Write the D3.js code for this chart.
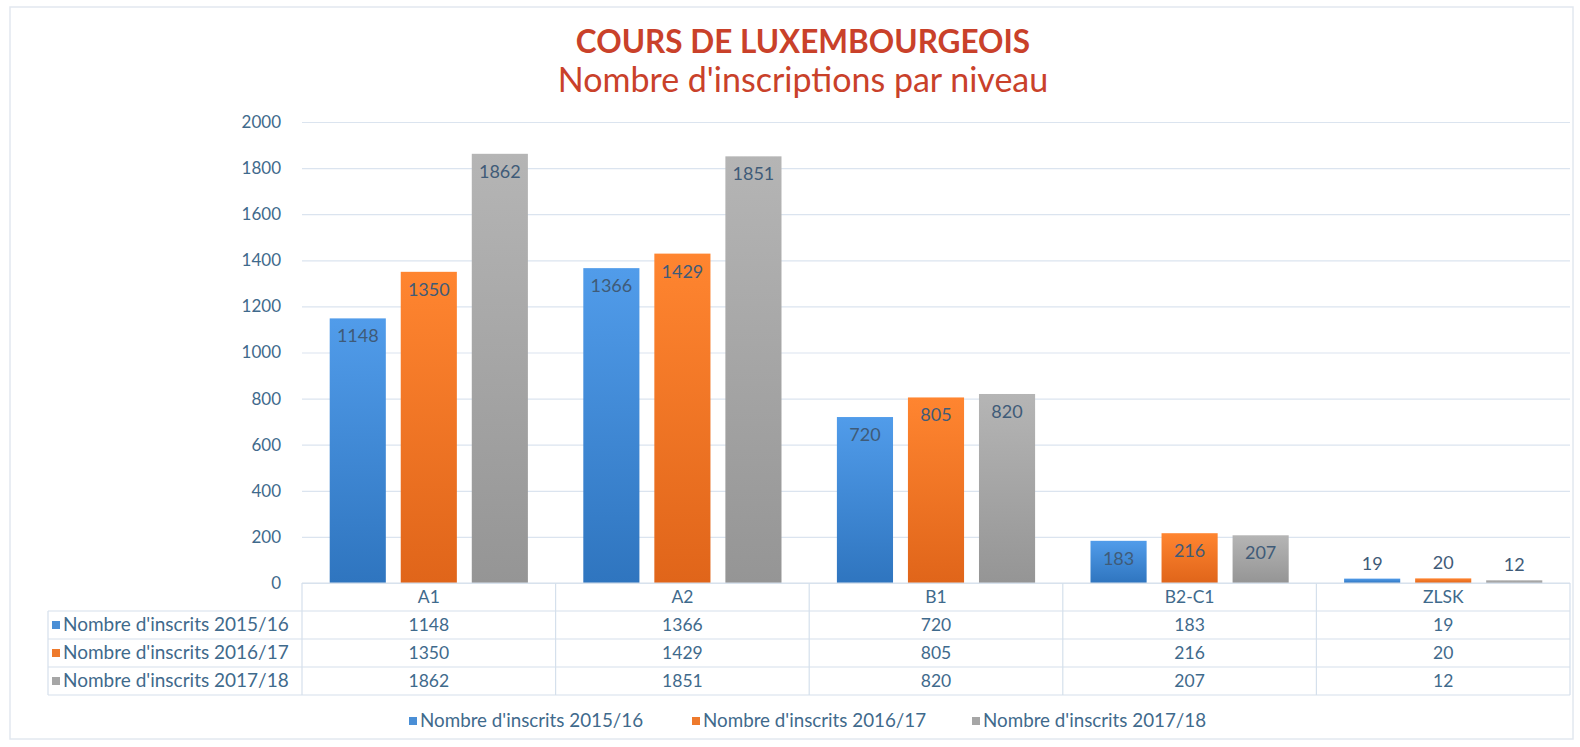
<!DOCTYPE html>
<html>
<head>
<meta charset="utf-8">
<script src="https://cdn.jsdelivr.net/npm/d3@7/dist/d3.min.js"></script>
<style>
  html, body { margin: 0; padding: 0; background: #fff; }
  svg { display: block; }
  text { font-family: Lato, "Open Sans", sans-serif; }
</style>
</head>
<body>
<svg id="chart" width="1580" height="747"></svg>
<script>
// Enrolment figures per level and school year
const levels = ["A1", "A2", "B1", "B2-C1", "ZLSK"];
const seriesNames = ["Nombre d'inscrits 2015/16", "Nombre d'inscrits 2016/17", "Nombre d'inscrits 2017/18"];
const values2015 = [1148, 1366, 720, 183, 19];
const values2016 = [1350, 1429, 805, 216, 20];
const values2017 = [1862, 1851, 820, 207, 12];
const yTicks = [0, 200, 400, 600, 800, 1000, 1200, 1400, 1600, 1800, 2000];
const titleLine1 = "COURS DE LUXEMBOURGEOIS";
const titleLine2 = "Nombre d'inscriptions par niveau";

const seriesValues = [values2015, values2016, values2017];
const colors = ["#4a8fd6", "#ee7a2c", "#a6a6a6"];
const darkColors = ["#2f75bf", "#e0651a", "#959595"];
const textColor = "#3f6a8c";
const gridColor = "#dbe4ef";

const svg = d3.select("#chart");

// gradients for the bars (lighter at top)
const defs = svg.append("defs");
colors.forEach((c, i) => {
  const g = defs.append("linearGradient").attr("id", "grad" + i)
    .attr("x1", 0).attr("y1", 0).attr("x2", 0).attr("y2", 1);
  g.append("stop").attr("offset", "0%").attr("stop-color", d3.color(c).brighter(0.25));
  g.append("stop").attr("offset", "100%").attr("stop-color", darkColors[i]);
});

// outer frame
svg.append("rect").attr("x", 10).attr("y", 7).attr("width", 1563).attr("height", 732)
  .attr("fill", "#fff").attr("stroke", "#e2e8ef").attr("stroke-width", 1.5);

// titles
svg.append("text").attr("x", 803).attr("y", 53).attr("text-anchor", "middle")
  .attr("font-size", 31.5).attr("font-weight", "bold").attr("fill", "#c9412a")
  .text(titleLine1);
svg.append("text").attr("x", 803).attr("y", 92).attr("text-anchor", "middle")
  .attr("font-size", 34).attr("fill", "#c9412a")
  .text(titleLine2);

// scales
const plotLeft = 302, plotRight = 1570, plotTop = 122, plotBottom = 583;
const x0 = d3.scaleBand().domain(levels).range([plotLeft, plotRight]).padding(0);
const x1 = d3.scaleBand().domain(d3.range(3)).range([0, x0.bandwidth()])
  .paddingInner(0.21).paddingOuter(0.39);
const y = d3.scaleLinear().domain([0, 2000]).range([plotBottom, plotTop]);

// gridlines and y axis labels
const yAxis = d3.axisLeft(y).tickValues(yTicks).tickFormat(d3.format("d"))
  .tickSize(-(plotRight - plotLeft)).tickPadding(21);
const gy = svg.append("g").attr("transform", `translate(${plotLeft},0)`).call(yAxis);
gy.select(".domain").remove();
gy.selectAll(".tick line").attr("stroke", gridColor).attr("stroke-width", 1.2);
gy.selectAll(".tick text").attr("fill", textColor).attr("font-size", 17)
  .attr("font-family", "Lato, sans-serif");

// bars
const groups = svg.append("g").selectAll("g").data(levels).join("g")
  .attr("transform", d => `translate(${x0(d)},0)`);
groups.selectAll("rect")
  .data((d, li) => seriesValues.map((vals, si) => ({ si, v: vals[li] })))
  .join("rect")
  .attr("x", d => x1(d.si))
  .attr("width", x1.bandwidth())
  .attr("y", d => y(d.v))
  .attr("height", d => plotBottom - y(d.v))
  .attr("fill", d => `url(#grad${d.si})`);

// data labels
groups.selectAll("text.lbl")
  .data((d, li) => seriesValues.map((vals, si) => ({ si, v: vals[li] })))
  .join("text").attr("class", "lbl")
  .attr("x", d => x1(d.si) + x1.bandwidth() / 2)
  .attr("y", d => (plotBottom - y(d.v) < 30) ? y(d.v) - 9 : y(d.v) + 24)
  .attr("text-anchor", "middle")
  .attr("font-size", 18).attr("fill", "#3f5b78")
  .text(d => d.v);

// data table below the chart
const tableLeft = 48;
const rowEdges = [583, 611, 639, 667, 695];
const tbl = svg.append("g");
const lineColor = "#d5e0ec";
const cellFont = 17.5;
// horizontal rules
rowEdges.forEach((ry, i) => {
  tbl.append("line")
    .attr("x1", i === 0 ? plotLeft : tableLeft).attr("x2", plotRight)
    .attr("y1", ry).attr("y2", ry)
    .attr("stroke", lineColor).attr("stroke-width", 1.2);
});
// vertical rules
tbl.append("line").attr("x1", tableLeft).attr("x2", tableLeft)
  .attr("y1", rowEdges[1]).attr("y2", rowEdges[4]).attr("stroke", lineColor).attr("stroke-width", 1.2);
levels.concat(["_end"]).forEach((lv, i) => {
  const xx = i < levels.length ? x0(lv) : plotRight;
  tbl.append("line").attr("x1", xx).attr("x2", xx)
    .attr("y1", rowEdges[0]).attr("y2", rowEdges[4]).attr("stroke", lineColor).attr("stroke-width", 1.2);
});
// category header
tbl.selectAll("text.cat").data(levels).join("text").attr("class", "cat")
  .attr("x", d => x0(d) + x0.bandwidth() / 2).attr("y", rowEdges[0] + 20)
  .attr("text-anchor", "middle").attr("font-size", cellFont).attr("fill", textColor)
  .text(d => d);
// series rows
seriesNames.forEach((name, si) => {
  const ry = rowEdges[si + 1];
  tbl.append("rect").attr("x", 52).attr("y", ry + 10).attr("width", 8).attr("height", 8)
    .attr("fill", colors[si]);
  tbl.append("text").attr("x", 63).attr("y", ry + 20)
    .attr("font-size", 19).attr("fill", textColor).text(name);
  tbl.selectAll(null).data(levels).join("text")
    .attr("x", d => x0(d) + x0.bandwidth() / 2).attr("y", ry + 20)
    .attr("text-anchor", "middle").attr("font-size", cellFont).attr("fill", textColor)
    .text((d, li) => seriesValues[si][li]);
});

// legend
const legendX = [409, 692, 972];
const legend = svg.append("g");
seriesNames.forEach((name, si) => {
  legend.append("rect").attr("x", legendX[si]).attr("y", 717).attr("width", 8).attr("height", 8)
    .attr("fill", colors[si]);
  legend.append("text").attr("x", legendX[si] + 11).attr("y", 727)
    .attr("font-size", 18.8).attr("fill", textColor).text(name);
});
</script>
</body>
</html>
